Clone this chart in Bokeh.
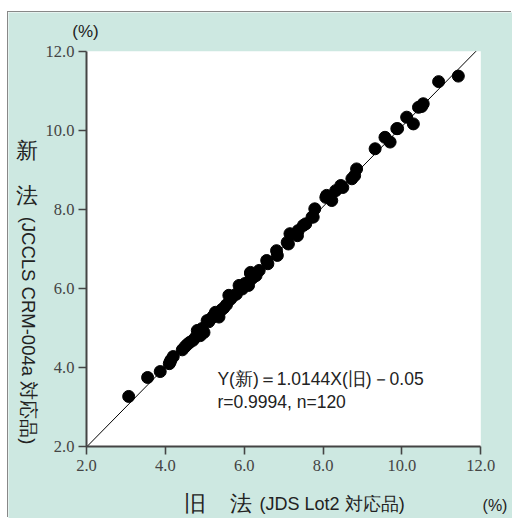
from bokeh.plotting import figure
from bokeh.models import (Range1d, FixedTicker, PrintfTickFormatter, Label,
                          LinearAxis, BoxAnnotation)
from bokeh.embed import file_html
from bokeh.resources import INLINE

# HbA1c (%) by the old method (JDS Lot2) vs the new method (JCCLS CRM-004a)
old_method = [3.07, 3.55, 3.87, 4.10, 4.12, 4.14, 4.20, 4.43, 4.50, 4.56, 4.62, 4.70,
              4.77, 4.81, 4.89, 4.93, 4.98, 5.06, 5.10, 5.15, 5.22, 5.27, 5.32, 5.36,
              5.42, 5.48, 5.55, 5.61, 5.65, 5.72, 5.80, 5.87, 5.91, 5.95, 6.02, 6.08,
              6.11, 6.16, 6.16, 6.20, 6.25, 6.30, 6.38, 6.57, 6.60, 6.82, 6.84, 7.09,
              7.12, 7.16, 7.35, 7.37, 7.50, 7.56, 7.72, 7.75, 7.79, 8.07, 8.09, 8.22,
              8.32, 8.45, 8.50, 8.73, 8.80, 8.85, 9.32, 9.57, 9.70, 9.87, 9.89, 10.12,
              10.29, 10.42, 10.50, 10.54, 10.93, 11.43]
new_method = [3.26, 3.74, 3.89, 4.09, 4.13, 4.18, 4.27, 4.44, 4.52, 4.58, 4.63, 4.68,
              4.76, 4.93, 4.80, 4.98, 4.88, 5.18, 5.15, 5.22, 5.30, 5.39, 5.35, 5.27,
              5.45, 5.50, 5.58, 5.82, 5.72, 5.80, 5.85, 6.07, 6.03, 5.98, 6.12, 6.11,
              6.07, 6.37, 6.40, 6.25, 6.30, 6.32, 6.45, 6.70, 6.62, 6.95, 6.83, 7.16,
              7.12, 7.38, 7.33, 7.46, 7.59, 7.63, 7.80, 7.80, 8.01, 8.30, 8.35, 8.22,
              8.47, 8.60, 8.55, 8.77, 8.85, 9.02, 9.53, 9.82, 9.70, 10.04, 10.04, 10.33,
              10.16, 10.58, 10.60, 10.67, 11.23, 11.37]

# regression: Y(new) = 1.0144 X(old) - 0.05
slope = 1.0144
intercept = -0.05
axis_min, axis_max = 2, 12
ticks = [2, 4, 6, 8, 10, 12]

TEAL = "#cde8e1"
AXIS = "#444444"
TICK_TEXT = "#444444"
TEXT = "#222222"

# The frame fills the whole canvas; the axes are pinned at 2.0 so that the
# titles around them can be placed as ordinary labels.
p = figure(width=504, height=506, output_backend="svg", toolbar_location=None,
           x_range=Range1d(0.022, 12.804), y_range=Range1d(0.170, 12.98),
           x_axis_location=None, y_axis_location=None,
           min_border=0)
p.margin = (12, 0, 0, 8)
p.styles = {"box-shadow": "-1px -1px 0 0 #888888"}
p.border_fill_color = TEAL
p.background_fill_color = TEAL
p.outline_line_color = None
p.grid.visible = False

# white plotting area
p.add_layout(BoxAnnotation(left=axis_min, right=axis_max, bottom=axis_min, top=axis_max,
                           fill_color="white", fill_alpha=1, line_color=None,
                           level="underlay"))

xaxis = LinearAxis(fixed_location=axis_min)
yaxis = LinearAxis(fixed_location=axis_min)
for ax in (xaxis, yaxis):
    ax.bounds = (axis_min, axis_max)
    ax.ticker = FixedTicker(ticks=ticks)
    ax.formatter = PrintfTickFormatter(format="%.1f")
    ax.axis_line_color = AXIS
    ax.axis_line_width = 2
    ax.major_tick_line_color = AXIS
    ax.major_tick_line_width = 1.6
    ax.major_tick_in = 0
    ax.major_tick_out = 8
    ax.minor_tick_line_color = None
    ax.major_label_text_font = "Liberation Sans Narrow"
    ax.major_label_text_font_size = "16.5px"
    ax.major_label_text_color = TICK_TEXT
xaxis.major_label_standoff = 6
yaxis.major_label_standoff = 4
p.add_layout(xaxis, "below")
p.add_layout(yaxis, "left")

# regression line across the plotting area
x_end = (axis_max - intercept) / slope
p.line([axis_min, x_end], [slope * axis_min + intercept, axis_max],
       line_color="black", line_width=1)
p.scatter(old_method, new_method, size=12, color="black")


def label(x, y, text, size, angle=0, color=TEXT, align="center"):
    p.add_layout(Label(x=x, y=y, text=text, text_font="Liberation Sans",
                       text_font_size=size, text_color=color, angle=angle,
                       text_align=align, text_baseline="middle"))


# regression statement
label(5.32, 3.71, "Y(新)＝1.0144X(旧)－0.05", "17.5px", align="left")
label(5.32, 3.11, "r=0.9994, n=120", "17.5px", align="left")

# unit marks
label(1.975, 12.50, "(%)", "17px")
label(12.36, 0.50, "(%)", "16px")

# x axis title
label(4.76, 0.54, "旧", "22px")
label(5.91, 0.54, "法", "22px")
label(6.39, 0.53, "(JDS Lot2 対応品)", "18px", align="left")

# y axis title
label(0.50, 9.49, "新", "22px")
label(0.50, 8.34, "法", "22px")
label(0.52, 4.93, "(JCCLS CRM-004a 対応品)", "18.5px", angle=-1.5708)

open("out.html", "w").write(file_html(p, INLINE))
